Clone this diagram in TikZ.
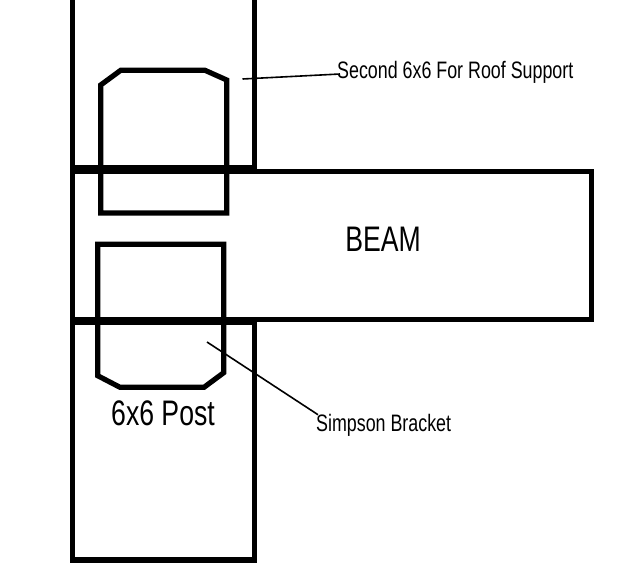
\documentclass[tikz,border=0pt]{standalone}
\usepackage{fontspec}
\newfontfamily\narrowfont[FakeStretch=0.75]{Liberation Sans}
\tikzset{
    timber/.style={line width=5.2pt,line join=miter},
    bracket/.style={line width=5.2pt,line join=miter},
    leader/.style={line width=1.6pt},
    bigtext/.style={inner sep=0pt,font=\narrowfont\fontsize{35.5}{36}\selectfont},
    smalltext/.style={inner sep=0pt,anchor=west,font=\narrowfont\fontsize{23.8}{24}\selectfont}
}
\begin{document}
\begin{tikzpicture}[x=1pt,y=-1pt]
    \useasboundingbox (0,0) rectangle (639,576);
    %% Second post
    \draw[timber] (72.5,-5) -- (72.5,168) -- (254.5,168) -- (254.5,-5);
    %% Lower post
    \draw[timber] (72.5,322) rectangle (254.5,560);
    %% Beam
    \draw[timber] (72.5,171.5) rectangle (591.5,319.5);
    %% Upper bracket
    \draw[bracket] (100.7,213) -- (226.7,213) -- (226.7,80) -- (205,70.3)
        -- (120.7,70.3) -- (100.7,85) -- cycle;
    %% Lower bracket
    \draw[bracket] (97.7,244.3) -- (223.7,244.3) -- (223.7,372.7) -- (204,387.3)
        -- (120,387.3) -- (97.7,375.7) -- cycle;
    %% Labels
    \node[bigtext] (beam) at (383,239) {BEAM};
    \node[bigtext] (post) at (163,413) {6x6 Post};
    \node[smalltext] (second) at (337,72) {Second 6x6 For Roof Support};
    \node[smalltext] (simpson) at (316,425) {Simpson Bracket};
    %% Leaders
    \coordinate (secondtip) at (242.5,79);
    \coordinate (simpsontip) at (207,342);
    \draw[leader] (secondtip) -- ([xshift=3pt,yshift=-2pt]second.west);
    \draw[leader] (simpsontip) -- ([xshift=2pt,yshift=-1pt]simpson.north west);
\end{tikzpicture}
\end{document}
